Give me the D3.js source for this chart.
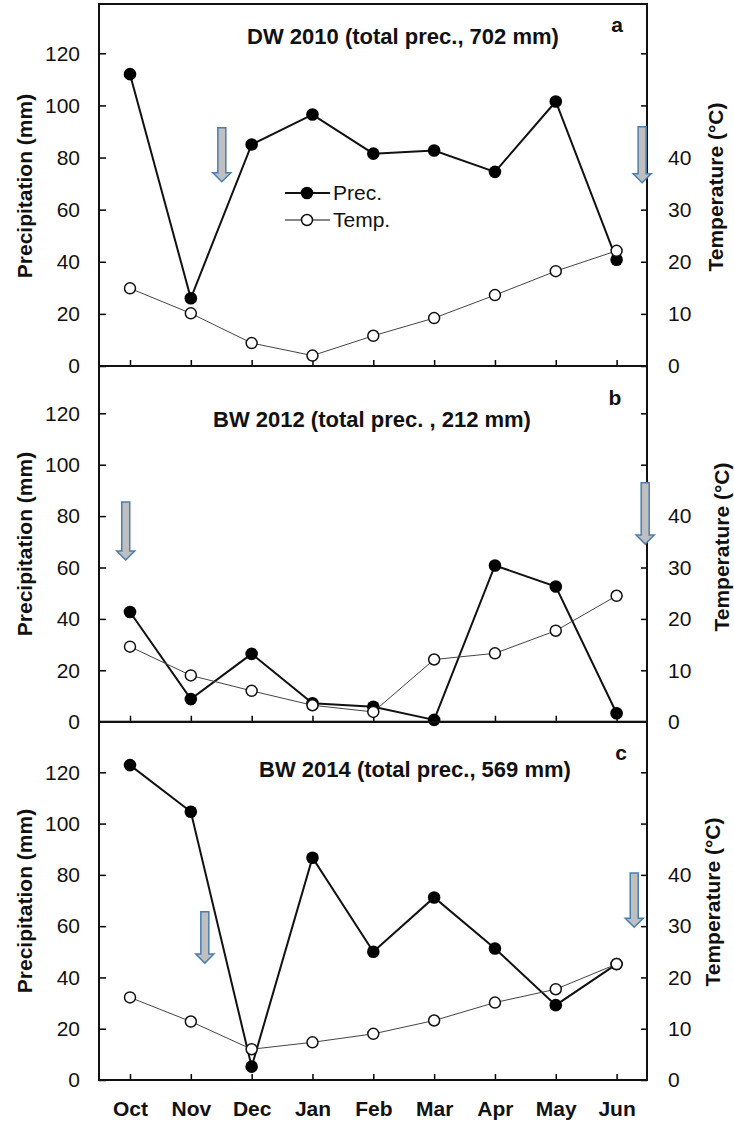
<!DOCTYPE html>
<html>
<head>
<meta charset="utf-8">
<script src="https://cdn.jsdelivr.net/npm/d3@7"></script>
<style>
  body { margin: 0; background: #fff; }
  svg { display: block; font-family: "Liberation Sans", Arial, sans-serif; }
</style>
</head>
<body>
<div id="chart"></div>
<script>
// Monthly precipitation (mm) and mean temperature (°C), three seasons
const months = ['Oct', 'Nov', 'Dec', 'Jan', 'Feb', 'Mar', 'Apr', 'May', 'Jun'];

const precA = [112, 26, 85, 96.5, 81.5, 82.7, 74.5, 101.5, 40.8];
const tempA = [14.9, 10.1, 4.4, 2.0, 5.8, 9.2, 13.6, 18.2, 22.1];

const precB = [42.7, 8.8, 26.4, 7.2, 5.8, 0.7, 60.8, 52.6, 3.3];
const tempB = [14.6, 9.0, 6.0, 3.2, 1.9, 12.1, 13.3, 17.7, 24.5];

const precC = [122.8, 104.6, 5.2, 86.7, 50.0, 71.2, 51.3, 29.2, 45.2];
const tempC = [16.1, 11.4, 6.0, 7.35, 9.0, 11.6, 15.1, 17.7, 22.6];

const titles = ['DW 2010 (total prec., 702 mm)', 'BW 2012 (total prec. , 212 mm)', 'BW 2014 (total prec., 569 mm)'];
const letters = ['a', 'b', 'c'];

const precTicks = [0, 20, 40, 60, 80, 100, 120];
const tempTicks = [0, 10, 20, 30, 40, 50, 60];

// sowing / harvest arrows, in data units: month index, prec from -> to
const arrowsA = [{ x: 1.51, from: 91.4, to: 70.7 }, { x: 8.42, from: 91.8, to: 70.3 }];
const arrowsB = [{ x: -0.07, from: 85.5, to: 62.9 }, { x: 8.47, from: 93, to: 69.1 }];
const arrowsC = [{ x: 1.23, from: 65.6, to: 45.6 }, { x: 8.29, from: 80.7, to: 59.6 }];

const W = 734, H = 1122;
const left = 99, right = 647;
const FS = 21;

const panels = [
  { prec: precA, temp: tempA, arrows: arrowsA, top: 4, zero: 366, y120: 53.3, titleX: 403, titleY: 44, letX: 617, letY: 32, yLab: 186, tLabX: 715, tLabY: 187 },
  { prec: precB, temp: tempB, arrows: arrowsB, top: 366, zero: 721.7, y120: 413.3, titleX: 372, titleY: 427, letX: 615, letY: 405, yLab: 544, tLabX: 721, tLabY: 547 },
  { prec: precC, temp: tempC, arrows: arrowsC, top: 722, zero: 1080, y120: 772.3, titleX: 415, titleY: 777, letX: 621, letY: 760, yLab: 901, tLabX: 712, tLabY: 902 }
];

const svg = d3.select('#chart').append('svg')
  .attr('width', W)
  .attr('height', H);

const x = d3.scaleLinear().domain([0, 8]).range([130, 616.6]);

panels.forEach((p, i) => {
  const y = d3.scaleLinear().domain([0, 120]).range([p.zero, p.y120]);
  const yT = d3.scaleLinear().domain([0, 60]).range([p.zero, p.y120]);
  const g = svg.append('g');

  // Left axis
  const ax = g.append('g')
    .attr('transform', `translate(${left},0)`)
    .call(d3.axisLeft(y).tickValues(precTicks).tickSizeInner(-7).tickSizeOuter(0).tickPadding(19));
  ax.select('.domain').remove();
  ax.selectAll('text').attr('font-size', FS).attr('font-family', null).attr('fill', '#111');
  ax.selectAll('line').attr('stroke-width', 1.5);

  // Right axis
  const axR = g.append('g')
    .attr('transform', `translate(${right},0)`)
    .call(d3.axisRight(yT).tickValues(tempTicks).tickSizeInner(-6).tickSizeOuter(0).tickPadding(21)
      .tickFormat(d => d <= 40 ? d : ''));
  axR.select('.domain').remove();
  axR.selectAll('text').attr('font-size', FS).attr('font-family', null).attr('fill', '#111');
  axR.selectAll('line').attr('stroke-width', 1.5);

  // Bottom axis
  const axB = g.append('g')
    .attr('transform', `translate(0,${p.zero})`)
    .call(d3.axisBottom(x).tickValues(d3.range(9)).tickSizeInner(-6).tickSizeOuter(0).tickPadding(21)
      .tickFormat(d => i === 2 ? months[d] : ''));
  axB.select('.domain').remove();
  axB.selectAll('text').attr('font-size', FS).attr('font-family', null)
    .attr('font-weight', 'bold').attr('fill', '#111');
  axB.selectAll('line').attr('stroke-width', 1.5);

  // Frame
  g.append('rect')
    .attr('x', left).attr('y', p.top)
    .attr('width', right - left).attr('height', p.zero - p.top)
    .attr('fill', 'none').attr('stroke', '#111').attr('stroke-width', 2);

  // Axis titles
  g.append('text')
    .attr('transform', `translate(32,${p.yLab}) rotate(-90)`)
    .attr('text-anchor', 'middle')
    .attr('font-size', FS).attr('font-weight', 'bold').attr('fill', '#111')
    .text('Precipitation (mm)');
  g.append('text')
    .attr('transform', `translate(${p.tLabX + 8},${p.tLabY}) rotate(-90)`)
    .attr('text-anchor', 'middle')
    .attr('font-size', FS).attr('font-weight', 'bold').attr('fill', '#111')
    .text('Temperature (°C)');

  // Title and panel letter
  g.append('text')
    .attr('x', p.titleX).attr('y', p.titleY)
    .attr('text-anchor', 'middle')
    .attr('font-size', 22).attr('font-weight', 'bold').attr('fill', '#111')
    .text(titles[i]);
  g.append('text')
    .attr('x', p.letX).attr('y', p.letY)
    .attr('text-anchor', 'middle')
    .attr('font-size', FS).attr('font-weight', 'bold').attr('fill', '#111')
    .text(letters[i]);

  // Arrows
  p.arrows.forEach(a => {
    const cx = x(a.x), y0 = y(a.from), y1 = y(a.to);
    const sw = 4, hw = 9, hh = 9;
    const path = `M${cx - sw},${y0} L${cx + sw},${y0} L${cx + sw},${y1 - hh} L${cx + hw},${y1 - hh} L${cx},${y1} L${cx - hw},${y1 - hh} L${cx - sw},${y1 - hh} Z`;
    g.append('path').attr('d', path)
      .attr('fill', '#bfbfbf').attr('stroke', '#4a7eb0').attr('stroke-width', 1.5);
  });

  // Precipitation series
  const lineP = d3.line().x((d, j) => x(j)).y(d => y(d));
  g.append('path').datum(p.prec).attr('d', lineP)
    .attr('fill', 'none').attr('stroke', '#111').attr('stroke-width', 2);
  g.selectAll('.pdot').data(p.prec).enter().append('circle')
    .attr('class', 'pdot')
    .attr('cx', (d, j) => x(j)).attr('cy', d => y(d)).attr('r', 6.3)
    .attr('fill', '#000');

  // Temperature series
  const lineT = d3.line().x((d, j) => x(j)).y(d => yT(d));
  g.append('path').datum(p.temp).attr('d', lineT)
    .attr('fill', 'none').attr('stroke', '#444').attr('stroke-width', 1);
  g.selectAll('.tdot').data(p.temp).enter().append('circle')
    .attr('class', 'tdot')
    .attr('cx', (d, j) => x(j)).attr('cy', d => yT(d)).attr('r', 5.5)
    .attr('fill', '#fff').attr('stroke', '#111').attr('stroke-width', 1.5);
});

// Legend (panel a)
const leg = svg.append('g');
const legItems = [
  { label: 'Prec.', y: 193, fill: '#000', width: 2 },
  { label: 'Temp.', y: 220, fill: '#fff', width: 1 }
];
legItems.forEach(it => {
  leg.append('line').attr('x1', 285).attr('x2', 330).attr('y1', it.y).attr('y2', it.y)
    .attr('stroke', '#111').attr('stroke-width', it.width);
  leg.append('circle').attr('cx', 307).attr('cy', it.y).attr('r', it.fill === '#000' ? 6.3 : 5.5)
    .attr('fill', it.fill).attr('stroke', '#111').attr('stroke-width', it.fill === '#000' ? 0 : 1.5);
  leg.append('text').attr('x', 333).attr('y', it.y + 7)
    .attr('font-size', FS).attr('fill', '#111').text(it.label);
});
</script>
</body>
</html>
